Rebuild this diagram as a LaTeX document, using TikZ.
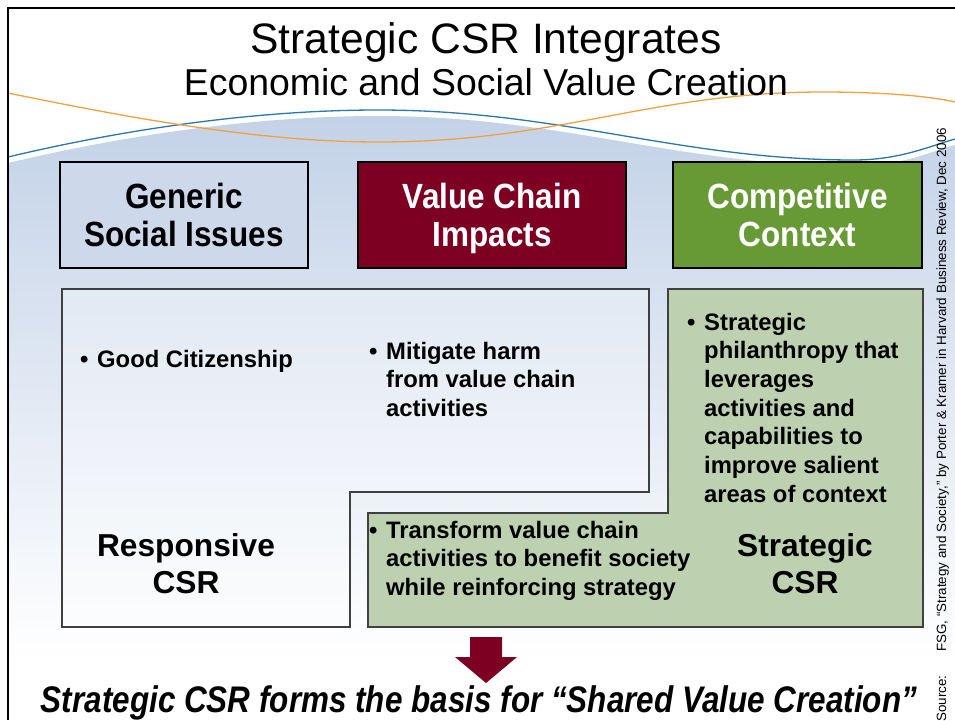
\documentclass[tikz,border=0pt]{standalone}
\usepackage{fontspec}
\setmainfont{Liberation Sans}
\newfontfamily\narrowfont[FakeStretch=0.85]{Liberation Sans}
\newfontfamily\headfont[FakeStretch=0.9]{Liberation Sans}

\definecolor{wine}{HTML}{7D0022}
\definecolor{leaf}{HTML}{679A35}
\definecolor{sage}{HTML}{BDD1B1}
\definecolor{skyfill}{HTML}{CDD9EB}
\definecolor{swell}{HTML}{C3D2E8}
\definecolor{waveblue}{HTML}{2577B5}
\definecolor{waveorange}{HTML}{F7A03A}

\tikzset{
  hdr/.style={draw=black, line width=1.6pt, minimum height=106pt, align=center,
    inner sep=0pt, font=\headfont\bfseries\fontsize{35}{38}\selectfont},
  panel/.style={draw=black!75, line width=1.1pt},
  bodytext/.style={inner sep=0pt, anchor=base west,
    font=\bfseries\fontsize{23.8}{28.7}\selectfont},
  bigtext/.style={inner sep=0pt, anchor=base,
    font=\bfseries\fontsize{31.7}{37}\selectfont},
  srctext/.style={inner sep=0pt, rotate=90, anchor=base west,
    font=\fontsize{13.4}{16}\selectfont}
}
\newcommand{\bul}{\makebox[17pt][l]{\textbullet}}
\newcommand{\nodepth}[1]{\raisebox{0pt}[\height][0pt]{#1}}

\begin{document}
\begin{tikzpicture}[x=1pt,y=-1pt]
\useasboundingbox (0,0) rectangle (955,720);
\fill[white] (0,0) rectangle (955,720);

% shaded swell under the wave
\shade[top color=swell, bottom color=white]
  (8,163) .. controls (130,134) and (260,116) .. (378,116)
  .. controls (560,116) and (680,166) .. (854,166)
  .. controls (900,166) and (930,152) .. (955,145)
  -- (955,660) -- (8,660) -- cycle;

% wave lines
\draw[waveblue, line width=1.3pt]
  (8,157) .. controls (130,128) and (260,110) .. (378,110)
  .. controls (560,110) and (680,160) .. (854,160)
  .. controls (900,160) and (930,146) .. (955,139);
\draw[waveorange, line width=1.3pt]
  (8,93) .. controls (130,118) and (260,142) .. (378,142)
  .. controls (560,142) and (650,92) .. (823,92)
  .. controls (880,92) and (930,96) .. (955,102);

% slide frame
\draw[line width=2pt] (8,720) -- (8,8) -- (955,8);

% title
\node[inner sep=0pt, anchor=base, font=\fontsize{42.6}{50}\selectfont] (title1) at (486,53) {Strategic CSR Integrates};
\node[inner sep=0pt, anchor=base, font=\fontsize{37.4}{44}\selectfont] (title2) at (486,95) {Economic and Social Value Creation};

% column headers
\node[hdr, fill=skyfill, minimum width=248pt] (generic) at (184,215) {Generic\\Social Issues};
\node[hdr, fill=wine, text=white, minimum width=268pt] (chain) at (492,215) {Value Chain\\\nodepth{Impacts}};
\node[hdr, fill=leaf, text=white, minimum width=249pt] (context) at (797.5,215) {Competitive\\Context};

% responsive and strategic areas
\draw[panel, fill=white, fill opacity=0.3]
  (62,289) -- (649,289) -- (649,492) -- (350,492) -- (350,627) -- (62,627) -- cycle;
\draw[panel, fill=sage]
  (668,289) -- (923,289) -- (923,627) -- (368,627) -- (368,513) -- (668,513) -- cycle;

% bullet texts
\node[bodytext] (citizen) at (80,367)
  {\begin{tabular}[t]{@{}l@{}}\bul Good Citizenship\end{tabular}};
\node[bodytext] (mitigate) at (369,359)
  {\begin{tabular}[t]{@{}l@{}l@{}}\bul & Mitigate harm\\ & from value chain\\ & activities\end{tabular}};
\node[bodytext] (philan) at (687,330)
  {\begin{tabular}[t]{@{}l@{}l@{}}\bul & Strategic\\ & philanthropy that\\ & leverages\\ & activities and\\ & capabilities to\\ & improve salient\\ & areas of context\end{tabular}};
\node[bodytext] (transform) at (369,538)
  {\begin{tabular}[t]{@{}l@{}l@{}}\bul & Transform value chain\\ & activities to benefit society\\ & while reinforcing strategy\end{tabular}};

% area labels
\node[bigtext] (responsive) at (186,556)
  {\begin{tabular}[t]{@{}c@{}}Responsive\\CSR\end{tabular}};
\node[bigtext] (strategic) at (805,556)
  {\begin{tabular}[t]{@{}c@{}}Strategic\\CSR\end{tabular}};

% down arrow
\fill[wine] (470,637) -- (502,637) -- (502,657) -- (517,657) -- (486,683)
  -- (455,657) -- (470,657) -- cycle;

% conclusion
\node[inner sep=0pt, anchor=base, font=\narrowfont\bfseries\itshape\fontsize{37}{42}\selectfont]
  (basis) at (479,712) {Strategic CSR forms the basis for “Shared Value Creation”};

% source note
\node[srctext] (srclabel) at (946,722) {Source:};
\node[srctext] (srcref) at (946,652) {FSG, “Strategy and Society,” by Porter \& Kramer in Harvard Business Review, Dec 2006};
\end{tikzpicture}
\end{document}
